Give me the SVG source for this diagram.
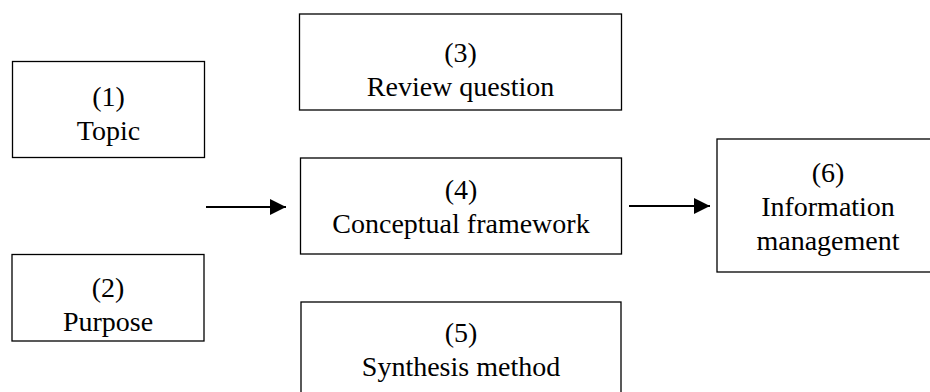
<svg xmlns="http://www.w3.org/2000/svg" width="930" height="392" viewBox="0 0 930 392">
  <style>
    .box { fill: #ffffff; stroke: #000000; stroke-width: 1.3; }
    .lbl { font-family: "Liberation Serif", "Times New Roman", serif; font-size: 28px; fill: #000000; text-anchor: middle; }
    .link { stroke: #000000; stroke-width: 2; fill: none; }
  </style>
  <defs>
    <marker id="arrowhead" viewBox="0 0 16 16" refX="16" refY="8" markerWidth="16" markerHeight="16" markerUnits="userSpaceOnUse" orient="auto">
      <path d="M0,0 L16,8 L0,16 Z" fill="#000000"/>
    </marker>
  </defs>
  <rect width="930" height="392" fill="#ffffff"/>

  <g id="node-topic">
    <rect class="box" x="12.5" y="61.5" width="192" height="96"/>
    <text class="lbl" x="108.5" y="106">(1)</text>
    <text class="lbl" x="108.5" y="140">Topic</text>
  </g>

  <g id="node-purpose">
    <rect class="box" x="12" y="254.5" width="192" height="86.5"/>
    <text class="lbl" x="108" y="297">(2)</text>
    <text class="lbl" x="108" y="331">Purpose</text>
  </g>

  <g id="node-review-question">
    <rect class="box" x="299.5" y="14" width="322" height="96"/>
    <text class="lbl" x="460.5" y="62">(3)</text>
    <text class="lbl" x="460.5" y="96">Review question</text>
  </g>

  <g id="node-conceptual-framework">
    <rect class="box" x="300.5" y="158" width="321" height="96"/>
    <text class="lbl" x="461" y="199">(4)</text>
    <text class="lbl" x="461" y="233">Conceptual framework</text>
  </g>

  <g id="node-synthesis-method">
    <rect class="box" x="301" y="302" width="320" height="100"/>
    <text class="lbl" x="461" y="342">(5)</text>
    <text class="lbl" x="461" y="376">Synthesis method</text>
  </g>

  <g id="node-information-management">
    <rect class="box" x="717" y="139" width="222" height="133"/>
    <text class="lbl" x="828" y="182">(6)</text>
    <text class="lbl" x="828" y="216">Information</text>
    <text class="lbl" x="828" y="250">management</text>
  </g>

  <g id="connectors">
    <line class="link" x1="206" y1="207" x2="286" y2="207" marker-end="url(#arrowhead)"/>
    <line class="link" x1="629" y1="206" x2="710" y2="206" marker-end="url(#arrowhead)"/>
  </g>
</svg>
